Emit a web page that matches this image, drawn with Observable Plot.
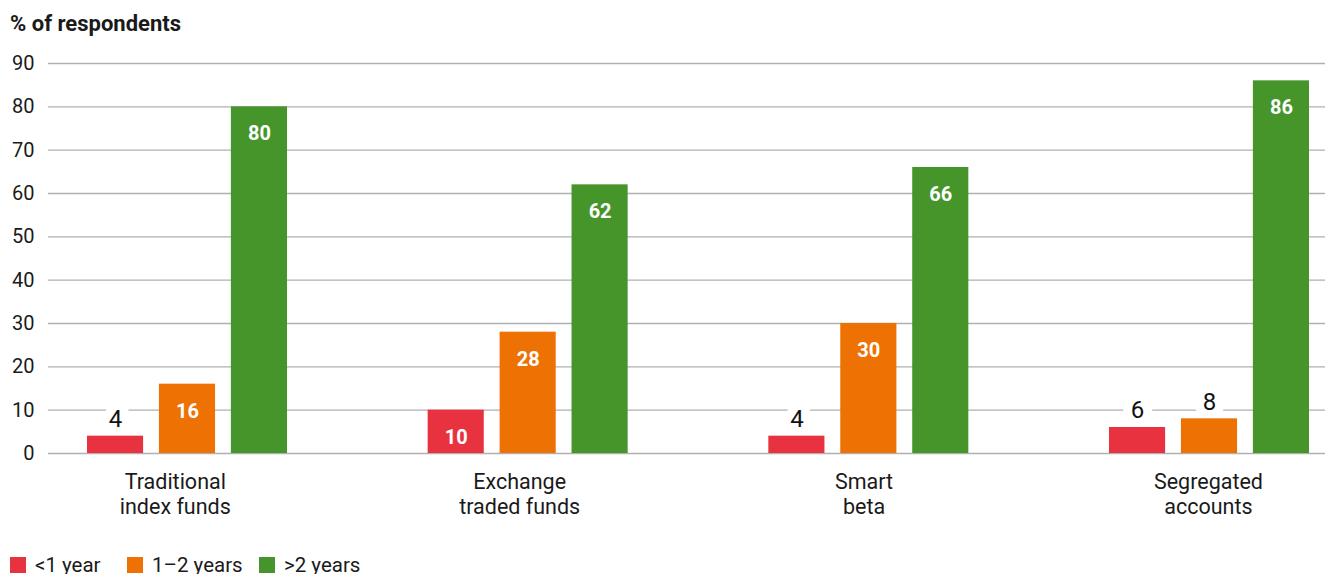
<!DOCTYPE html>
<html>
<head>
<meta charset="utf-8">
<script src="https://cdn.jsdelivr.net/npm/d3@7"></script>
<script src="https://cdn.jsdelivr.net/npm/@observablehq/plot@0.6"></script>
<style>
  body { margin: 0; background: #fff; font-family: Roboto, "Liberation Sans", sans-serif; color: #1a1a1a; }
  #wrap { position: relative; width: 1325px; height: 574px; overflow: hidden; }
  #title { position: absolute; left: 10px; top: 10px; font-weight: bold; font-size: 22px; line-height: 28px; }
  .layer { position: absolute; left: 0; top: 40px; }
  #legend { position: absolute; left: 10px; top: 553px; display: flex; font-size: 20.5px; line-height: 24px; }
  .item { display: flex; align-items: center; white-space: nowrap; }
  .item:nth-child(1) { width: 117px; }
  .item:nth-child(2) { width: 132px; }
  .sw { width: 16px; height: 16px; margin-right: 9px; flex: none; }
</style>
</head>
<body>
<div id="wrap">
  <div id="title">% of respondents</div>
  <div id="grid" class="layer"></div>
  <div id="chart" class="layer"></div>
  <div id="legend"></div>
</div>
<script>
const categories = ["Traditional\nindex funds", "Exchange\ntraded funds", "Smart\nbeta", "Segregated\naccounts"];
const seriesNames = ["<1 year", "1–2 years", ">2 years"];
const seriesColors = ["#e8323f", "#ee7203", "#45952b"];
const lessThan1 = [4, 10, 4, 6];
const oneToTwo = [16, 28, 30, 8];
const moreThan2 = [80, 62, 66, 86];
const yTicks = [0, 10, 20, 30, 40, 50, 60, 70, 80, 90];

const seriesValues = [lessThan1, oneToTwo, moreThan2];
const data = [];
categories.forEach((c, i) => {
  seriesNames.forEach((s, j) => {
    data.push({category: c, series: s, value: seriesValues[j][i]});
  });
});
const inside = data.filter(d => d.value >= 9);
const outside = data.filter(d => d.value < 9);

const frame = {
  width: 1325,
  height: 480,
  marginTop: 23,
  marginBottom: 67,
  marginLeft: 48,
  marginRight: 0,
  style: {fontFamily: "Roboto, 'Liberation Sans', sans-serif", color: "#1a1a1a", background: "transparent"}
};

// Layer 1: continuous gridlines, y tick labels and category labels
const grid = Plot.plot({
  ...frame,
  x: {type: "point", domain: categories, padding: 0.354, align: 0.52, round: false, axis: null},
  y: {domain: [0, 90], axis: null},
  marks: [
    Plot.ruleY(yTicks, {y: d => d, stroke: "#b0b0b0", strokeWidth: 1.3}),
    Plot.text(yTicks, {y: d => d, text: d => String(d), frameAnchor: "left", textAnchor: "end", dx: -14, fontSize: 20, fill: "#1a1a1a"}),
    Plot.text(categories, {x: d => d, text: d => d, frameAnchor: "bottom", lineAnchor: "top", dy: 17.5, fontSize: 21.5, lineHeight: 1.16, fill: "#1a1a1a"})
  ]
});
document.getElementById("grid").appendChild(grid);

// Layer 2: grouped bars
const chart = Plot.plot({
  ...frame,
  fx: {domain: categories, paddingInner: 0.4129, paddingOuter: 0.0807, align: 0.709, round: false, axis: null},
  x: {domain: seriesNames, paddingInner: 0.22, paddingOuter: 0, round: false, axis: null},
  y: {domain: [0, 90], axis: null},
  color: {domain: seriesNames, range: seriesColors},
  marks: [
    Plot.text(outside, {fx: "category", x: "series", y: "value", text: d => String(d.value), dy: -17, fontSize: 24, fill: "white", stroke: "white", strokeWidth: 18, strokeLinejoin: "round"}),
    Plot.barY(data, {fx: "category", x: "series", y: "value", fill: "series"}),
    Plot.text(inside, {fx: "category", x: "series", y: "value", text: d => String(d.value), dy: 27, fontSize: 20, fontWeight: "bold", fill: "white"}),
    Plot.text(outside, {fx: "category", x: "series", y: "value", text: d => String(d.value), dy: -17, fontSize: 24, fill: "#111"})
  ]
});
document.getElementById("chart").appendChild(chart);

const legend = document.getElementById("legend");
seriesNames.forEach((s, i) => {
  const item = document.createElement("div");
  item.className = "item";
  const sw = document.createElement("div");
  sw.className = "sw";
  sw.style.background = seriesColors[i];
  const t = document.createElement("span");
  t.textContent = s;
  item.appendChild(sw);
  item.appendChild(t);
  legend.appendChild(item);
});
</script>
</body>
</html>
